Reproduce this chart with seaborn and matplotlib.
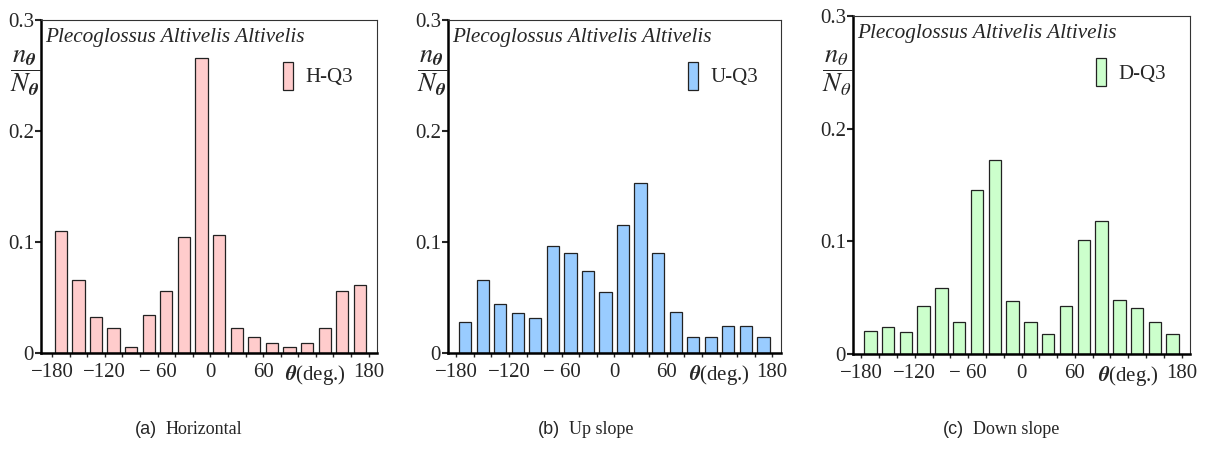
import matplotlib
matplotlib.use('Agg')
import matplotlib.pyplot as plt
import seaborn as sns
import pandas as pd

# ---- data ----
theta_bins = [-170, -150, -130, -110, -90, -70, -50, -30, -10,
              10, 30, 50, 70, 90, 110, 130, 150, 170]
h_q3 = [0.110, 0.066, 0.032, 0.0225, 0.0054, 0.034, 0.056, 0.1045, 0.266,
        0.106, 0.0225, 0.014, 0.0087, 0.0054, 0.0087, 0.0225, 0.056, 0.061]
u_q3 = [0.028, 0.066, 0.044, 0.036, 0.0315, 0.096, 0.090, 0.074, 0.0547,
        0.115, 0.153, 0.090, 0.0366, 0.0144, 0.0144, 0.024, 0.0246, 0.0144]
d_q3 = [0.0204, 0.0237, 0.0195, 0.0426, 0.0586, 0.0287, 0.1456, 0.172, 0.0467,
        0.0287, 0.0175, 0.0426, 0.101, 0.118, 0.048, 0.0405, 0.0287, 0.0175]
series_labels = ['H-Q3', 'U-Q3', 'D-Q3']
series_colors = ['#FFCCCC', '#99CCFF', '#CCFFCC']
caption_tags = ['(a)', '(b)', '(c)']
caption_texts = ['Horizontal', 'Up slope', 'Down slope']
species = 'Plecoglossus Altivelis Altivelis'
y_ticks = [0, 0.1, 0.2, 0.3]
y_ticklabels = ['0', '0.1', '0.2', '0.3']
x_ticks = [-180, -160, -140, -120, -100, -80, -60, -40, -20, 0,
           20, 40, 60, 80, 100, 120, 140, 160, 180]
x_label_map = {-180: '\u2212180', -120: '\u2212120', -60: '\u2212 60', 0: '0',
               60: '60', 120: r'$\boldsymbol{\theta}$(deg.)', 180: '180'}

sns.set_style('ticks')
plt.rcParams['font.family'] = ['Liberation Serif', 'DejaVu Serif']
plt.rcParams['mathtext.fontset'] = 'stix'

W, H = 1207, 457
fig = plt.figure(figsize=(W / 100, H / 100), dpi=100)

# axes boxes in pixels: left, right, top, bottom
boxes = [(41, 377, 20, 353), (448, 781, 20, 353), (853, 1190, 16, 354)]
xlims = [(-192.5, 189.5), (-189.5, 190), (-189.5, 189.5)]
ylabels = [r'$\dfrac{n_{\boldsymbol{\theta}}}{N_{\boldsymbol{\theta}}}$',
           r'$\dfrac{n_{\boldsymbol{\theta}}}{N_{\boldsymbol{\theta}}}$',
           r'$\dfrac{n_{\theta}}{N_{\theta}}$']
caption_x = [150, 553, 957]

for i, vals in enumerate([h_q3, u_q3, d_q3]):
    l, r, t, b = boxes[i]
    ax = fig.add_axes([l / W, (H - b) / H, (r - l) / W, (b - t) / H])
    df = pd.DataFrame({'theta': theta_bins, 'ratio': vals})
    sns.barplot(data=df, x='theta', y='ratio', native_scale=True, width=0.7,
                color=series_colors[i], saturation=1, edgecolor='#222222',
                linewidth=0.9, ax=ax)
    ax.set_xlim(*xlims[i])
    ax.set_ylim(0, 0.3)
    ax.set_xlabel('')
    ax.set_ylabel('')
    ax.set_yticks(y_ticks)
    ax.set_yticklabels(y_ticklabels, fontsize=15)
    ax.set_xticks(x_ticks)
    ax.set_xticklabels([x_label_map.get(v, '') for v in x_ticks], fontsize=15)
    ax.tick_params(axis='y', direction='out', length=4, width=1.5, pad=1)
    ax.tick_params(axis='x', direction='out', length=3, width=1.0, pad=4)
    for s in ['left', 'bottom']:
        ax.spines[s].set_linewidth(1.8)
        ax.spines[s].set_color('black')
    for s in ['top', 'right']:
        ax.spines[s].set_visible(True)
        ax.spines[s].set_linewidth(0.8)
        ax.spines[s].set_color('#333333')
    ax.text(0.012, 0.975, species, transform=ax.transAxes, style='italic',
            fontsize=15.3, ha='left', va='top')
    ax.legend([ax.patches[0]], [series_labels[i]], loc='upper left',
              bbox_to_anchor=(0.695, 0.9), frameon=False, fontsize=15,
              handlelength=0.5, handleheight=1.7, handletextpad=0.6,
              borderaxespad=0)
    fig.text((l - 16) / W, (H - 73) / H, ylabels[i], fontsize=19,
             ha='center', va='center')
    cx = caption_x[i]
    fig.text((cx + 7) / W, (H - 430) / H, caption_tags[i], fontsize=13,
             family='Liberation Sans', ha='right', va='center')
    fig.text((cx + 16) / W, (H - 430) / H, caption_texts[i], fontsize=13,
             ha='left', va='center')

fig.savefig('out.png', dpi=100)
